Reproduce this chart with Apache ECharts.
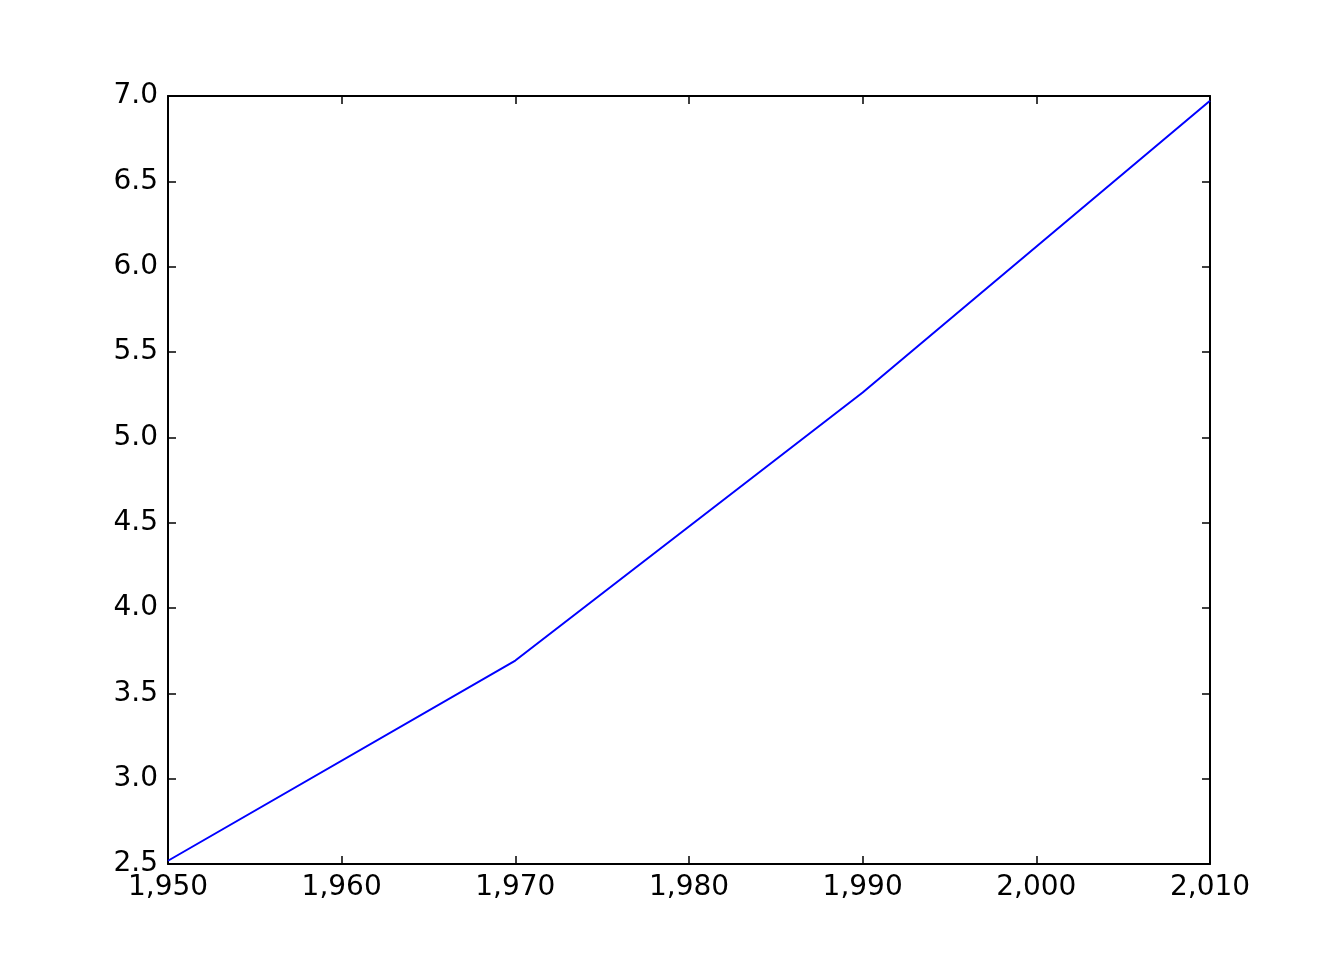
<!DOCTYPE html>
<html>
<head>
<meta charset="utf-8">
<script src="https://cdn.jsdelivr.net/npm/echarts@6/dist/echarts.min.js"></script>
<style>html,body{margin:0;padding:0;background:#fff;}#chart{width:1344px;height:960px;}</style>
</head>
<body>
<div id="chart"></div>
<script>
var years = [1950, 1970, 1990, 2010];
var pops = [2.519, 3.692, 5.263, 6.972];

var labelFont = {color: '#000', fontSize: 28, fontFamily: 'DejaVu Sans'};
var tick = {show: true, inside: true, length: 8, lineStyle: {color: '#000', width: 1.5}};
var line = {show: true, lineStyle: {color: '#000', width: 2}};

echarts.init(document.getElementById('chart')).setOption({
    animation: false,
    grid: {left: 168, right: 134, top: 96, bottom: 96},
    xAxis: [{
        type: 'value', min: 1950, max: 2010, interval: 10,
        axisLine: line, axisTick: tick, splitLine: {show: false},
        axisLabel: Object.assign({margin: 10}, labelFont)
    }, {
        type: 'value', position: 'top', min: 1950, max: 2010, interval: 10,
        axisLine: line, axisTick: tick, splitLine: {show: false},
        axisLabel: {show: false}
    }],
    yAxis: [{
        type: 'value', min: 2.5, max: 7.0, interval: 0.5,
        axisLine: line, axisTick: tick, splitLine: {show: false},
        axisLabel: Object.assign({margin: 10, formatter: function (v) { return v.toFixed(1); }}, labelFont)
    }, {
        type: 'value', position: 'right', min: 2.5, max: 7.0, interval: 0.5,
        axisLine: line, axisTick: tick, splitLine: {show: false},
        axisLabel: {show: false}
    }],
    series: [{
        type: 'line',
        data: years.map(function (y, i) { return [y, pops[i]]; }),
        showSymbol: false,
        lineStyle: {color: '#0000ff', width: 2}
    }]
});
</script>
</body>
</html>
